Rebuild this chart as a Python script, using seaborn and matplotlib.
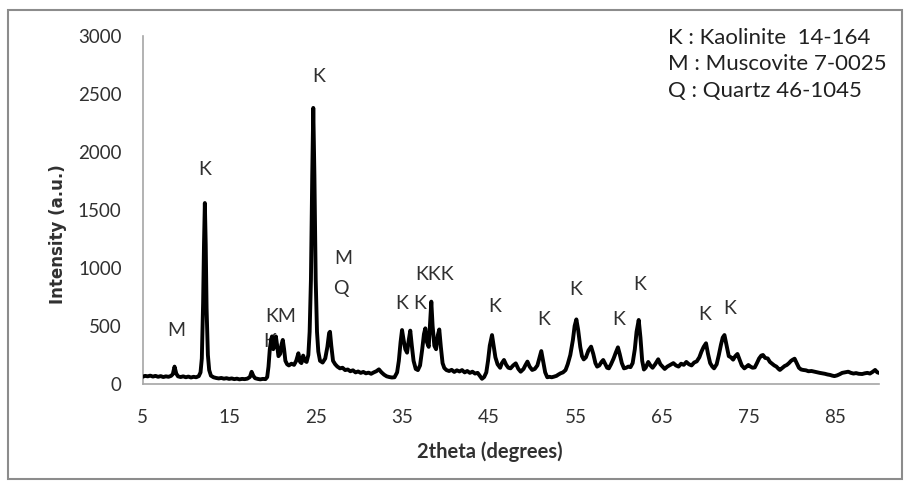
import matplotlib
matplotlib.use("Agg")
import matplotlib.pyplot as plt
import seaborn as sns
import pandas as pd
from matplotlib.patches import Rectangle

# XRD pattern: diffraction angle (2theta, degrees) and intensity (a.u.)
two_theta = [
    5.0, 5.3, 5.6, 5.9, 6.2, 6.5, 6.8, 7.1, 7.4, 7.7, 8.0, 8.3, 8.5, 8.7, 8.9, 9.1,
    9.4, 9.7, 10.0, 10.3, 10.6, 10.9, 11.2, 11.5, 11.7, 11.85, 12.0, 12.1, 12.2, 12.3,
    12.4, 12.55, 12.7, 12.9, 13.2, 13.5, 13.8, 14.1, 14.4, 14.7, 15.0, 15.3, 15.6, 15.9,
    16.2, 16.5, 16.8, 17.1, 17.4, 17.6, 17.8, 18.0, 18.3, 18.6, 18.9, 19.2, 19.4, 19.55,
    19.7, 19.85, 19.95, 20.1, 20.25, 20.4, 20.55, 20.7, 20.9, 21.05, 21.2, 21.35, 21.5,
    21.7, 21.9, 22.2, 22.5, 22.75, 23.0, 23.2, 23.35, 23.55, 23.75, 23.95, 24.15, 24.3,
    24.45, 24.6, 24.72, 24.85, 25.0, 25.15, 25.3, 25.5, 25.8, 26.1, 26.35, 26.55, 26.65,
    26.8, 27.0, 27.25, 27.5, 27.8, 28.1, 28.4, 28.7, 29.0, 29.3, 29.6, 29.9, 30.2, 30.5,
    30.8, 31.1, 31.4, 31.7, 32.0, 32.3, 32.6, 32.9, 33.2, 33.5, 33.8, 34.1, 34.4, 34.6,
    34.8, 34.97, 35.15, 35.35, 35.55, 35.75, 35.92, 36.1, 36.3, 36.55, 36.8, 37.05, 37.3,
    37.5, 37.66, 37.85, 38.05, 38.2, 38.35, 38.5, 38.7, 38.9, 39.1, 39.27, 39.45, 39.65,
    39.85, 40.1, 40.4, 40.7, 41.0, 41.3, 41.6, 41.9, 42.2, 42.5, 42.8, 43.1, 43.4, 43.7,
    43.95, 44.2, 44.45, 44.7, 44.9, 45.1, 45.36, 45.55, 45.75, 46.0, 46.3, 46.5, 46.74,
    47.0, 47.25, 47.5, 47.8, 48.1, 48.4, 48.67, 49.0, 49.2, 49.45, 49.7, 50.0, 50.3, 50.6,
    50.85, 51.05, 51.25, 51.5, 51.74, 52.0, 52.25, 52.5, 52.8, 53.0, 53.27, 53.55, 53.85,
    54.1, 54.4, 54.7, 54.9, 55.1, 55.3, 55.55, 55.75, 55.95, 56.2, 56.5, 56.8, 57.05,
    57.3, 57.5, 57.75, 58.0, 58.2, 58.45, 58.65, 58.85, 59.1, 59.4, 59.65, 59.9, 60.1,
    60.35, 60.6, 60.85, 61.1, 61.35, 61.6, 61.85, 62.05, 62.3, 62.5, 62.7, 62.9, 63.1,
    63.4, 63.65, 63.9, 64.2, 64.55, 64.8, 65.05, 65.3, 65.6, 65.95, 66.3, 66.6, 66.9,
    67.2, 67.5, 67.8, 68.1, 68.4, 68.7, 69.0, 69.3, 69.55, 69.8, 70.07, 70.3, 70.55,
    70.8, 71.0, 71.3, 71.55, 71.8, 72.0, 72.2, 72.45, 72.7, 72.95, 73.2, 73.45, 73.7,
    73.95, 74.2, 74.5, 74.75, 74.96, 75.2, 75.45, 75.7, 75.95, 76.2, 76.45, 76.65, 76.9,
    77.2, 77.45, 77.7, 77.95, 78.2, 78.45, 78.6, 78.9, 79.15, 79.4, 79.65, 79.9, 80.1,
    80.3, 80.55, 80.8, 81.05, 81.3, 81.6, 81.9, 82.25, 82.6, 82.9, 83.2, 83.5, 83.8,
    84.1, 84.4, 84.65, 84.9, 85.2, 85.5, 85.8, 86.1, 86.5, 86.8, 87.1, 87.4, 87.7, 88.1,
    88.4, 88.7, 89.0, 89.3, 89.6, 89.85, 90.1,
]
intensity = [
    62, 70, 66, 72, 64, 70, 62, 68, 60, 66, 62, 70, 85, 150, 90, 66,
    60, 66, 58, 64, 56, 62, 58, 68, 100, 220, 700, 1200, 1560, 1200,
    650, 250, 120, 72, 58, 52, 48, 52, 46, 50, 44, 48, 42, 46,
    40, 44, 42, 46, 60, 105, 70, 50, 44, 40, 44, 42, 60, 150,
    300, 380, 410, 300, 340, 410, 330, 240, 260, 340, 380, 300, 200,
    170, 160, 175, 165, 200, 265, 190, 180, 245, 200, 190, 250, 450,
    900, 1800, 2380, 1800, 900, 450, 280, 200, 185, 220, 320, 440, 450,
    330, 200, 170, 150, 135, 140, 120, 125, 110, 118, 100, 108, 96, 104,
    92, 98, 88, 100, 110, 126, 100, 80, 66, 60, 56, 58, 100, 200,
    360, 465, 380, 300, 270, 380, 460, 330, 200, 130, 120, 160, 300,
    430, 480, 360, 320, 520, 710, 500, 330, 300, 420, 470, 320, 180,
    138, 120, 112, 122, 104, 118, 108, 120, 100, 112, 96, 106, 90, 96,
    70, 45, 60, 100, 200, 330, 422, 330, 230, 170, 140, 180, 207,
    165, 140, 135, 160, 178, 130, 106, 130, 160, 193, 150, 121, 130, 160,
    230, 284, 200, 100, 58, 62, 58, 63, 70, 80, 92, 100, 120,
    170, 250, 380, 500, 557, 470, 320, 240, 212, 230, 290, 322, 260,
    180, 150, 160, 190, 207, 170, 140, 135, 170, 220, 270, 316, 260,
    180, 135, 140, 150, 145, 180, 300, 450, 552, 400, 200, 125, 140,
    190, 160, 140, 170, 213, 170, 150, 130, 150, 165, 180, 160, 150,
    175, 165, 190, 170, 160, 185, 195, 230, 280, 320, 351, 260, 180,
    150, 135, 170, 250, 340, 400, 422, 330, 240, 230, 210, 240, 259,
    210, 160, 135, 150, 164, 150, 140, 143, 180, 220, 245, 250, 225,
    220, 190, 175, 160, 150, 130, 121, 140, 155, 164, 180, 200, 210,
    218, 180, 140, 125, 121, 118, 110, 112, 106, 100, 96, 92, 88,
    82, 78, 72, 68, 74, 84, 96, 100, 106, 96, 90, 94, 88, 86,
    92, 96, 90, 104, 121, 100, 95,
]

# Phase labels placed above the peaks
peak_labels = ["M", "K", "KM", "K", "K", "M", "Q", "K", "K", "KKK",
               "K", "K", "K", "K", "K", "K", "K"]
label_x = [8.87, 12.2, 21.0, 19.64, 25.4, 28.15, 27.9, 34.96, 37.0, 38.67,
           45.67, 51.3, 55.06, 60.0, 62.45, 69.95, 72.84]
label_y = [457, 1845, 586, 365, 2647, 1078, 819, 690, 690, 940,
           667, 557, 816, 552, 859, 595, 652]

legend_lines = ["K : Kaolinite  14-164", "M : Muscovite 7-0025", "Q : Quartz 46-1045"]

x_ticks = [5, 15, 25, 35, 45, 55, 65, 75, 85]
y_ticks = [0, 500, 1000, 1500, 2000, 2500, 3000]

sns.set_style("white")
plt.rcParams["font.family"] = ["Lato", "DejaVu Sans"]

W, H = 906, 482
fig = plt.figure(figsize=(W / 100, H / 100), dpi=100)
ax = fig.add_axes([142.5 / W, (H - 384) / H, (878.6 - 142.5) / W, 348 / H])

df = pd.DataFrame({"two_theta": two_theta, "intensity": intensity})
sns.lineplot(data=df, x="two_theta", y="intensity", ax=ax, color="black",
             linewidth=2.8, zorder=3)

for txt, lx, ly in zip(peak_labels, label_x, label_y):
    ax.text(lx, ly, txt, ha="center", va="center", fontsize=14,
            color="#303030", zorder=2)

for i, (line, base) in enumerate(zip(legend_lines, [43.5, 70.5, 97.5])):
    fig.text(668 / W, 1 - base / H, line, ha="left", va="baseline",
             fontsize=16, color="#202020")

ax.set_xlim(5, 90)
ax.set_ylim(0, 3000)
ax.set_xticks(x_ticks)
ax.set_yticks(y_ticks)
ax.tick_params(axis="both", which="major", labelsize=13.5, labelcolor="#303030",
               color="#a6a6a6", length=5, width=1, direction="out")
ax.tick_params(axis="x", pad=13)
ax.tick_params(axis="y", pad=10)
sns.despine(ax=ax, top=True, right=True)
for side in ("left", "bottom"):
    ax.spines[side].set_color("#a6a6a6")
    ax.spines[side].set_linewidth(1.2)

ax.set_xlabel("2theta (degrees)", fontsize=14.5, fontweight="bold",
              color="#303030")
ax.set_ylabel("Intensity (a.u.)", fontsize=12, fontweight="bold",
              color="#303030", family=["DejaVu Sans"])
ax.xaxis.set_label_coords((490 - 142.5) / (878.6 - 142.5), -(452 - 384) / 348)
ax.yaxis.set_label_coords(-(142.5 - 58) / (878.6 - 142.5), (384 - 234) / 348)
ax.xaxis.label.set_va("center")
ax.yaxis.label.set_va("center")

# Outer frame around the chart area
fig.patches.append(Rectangle((8 / W, 3 / H), (W - 12) / W, (H - 13) / H,
                             transform=fig.transFigure, fill=False,
                             edgecolor="#8c8c8c", linewidth=1.5))

fig.savefig("out.png", dpi=100)
